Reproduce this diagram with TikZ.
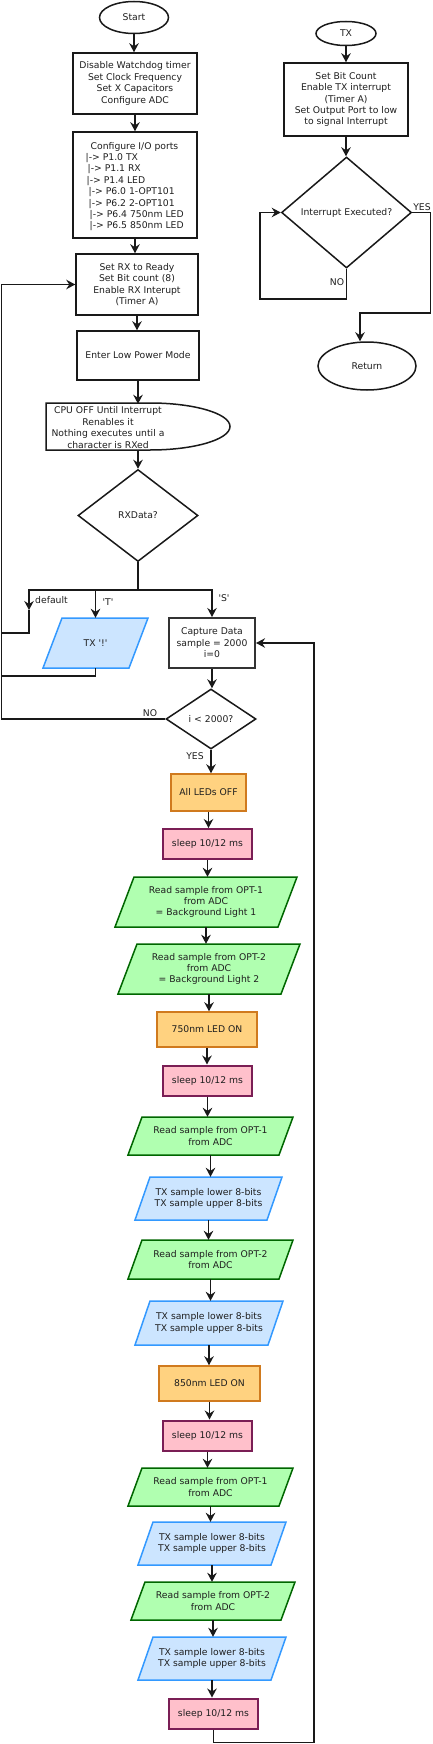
\documentclass[tikz,border=0pt]{standalone}
\usepackage{fontspec}
\newfontfamily\dv{DejaVu Sans}
\usetikzlibrary{shapes.geometric,arrows.meta,calc}
\definecolor{grnF}{HTML}{B0FFB0}
\definecolor{grnD}{HTML}{006600}
\definecolor{bluF}{HTML}{CCE5FF}
\definecolor{bluD}{HTML}{3399FF}
\definecolor{ledF}{HTML}{FFD280}
\definecolor{ledD}{HTML}{D07A1E}
\definecolor{pnkF}{HTML}{FFC0CB}
\definecolor{pnkD}{HTML}{7A1E55}
\newcommand\Para[8]{%
  \path[#7] (#2+#6,#4) -- (#3,#4) -- (#3-#6,#5) -- (#2,#5) -- cycle;
  \node[txt, minimum height={(#5-#4)*1pt}, minimum width={(#3-#2-#6)*1pt}] (#1) at ({(#2+#3)/2},{(#4+#5)/2}) {#8};}
\begin{document}
\begin{tikzpicture}[x=1pt,y=-1pt,
  txt/.style={font=\dv\fontsize{9.25}{11.4}\selectfont, text=black!88, align=center, inner sep=0pt},
  proc/.style={txt, draw=black!90, line width=1.5pt, rectangle, fill=white},
  term/.style={txt, draw=black!90, line width=1.5pt, ellipse, fill=white},
  dec/.style={txt, draw=black!90, line width=1.5pt, diamond, fill=white},
  ln/.style={line width=1.5pt, draw=black!90},
  arr/.style={ln, -{Stealth[length=9pt,width=9.5pt,inset=3pt]}},
  led/.style={proc, fill=ledF, draw=ledD},
  slp/.style={proc, fill=pnkF, draw=pnkD, line width=2pt},
  capbox/.style={proc, draw=black!80, line width=2pt},
  grn/.style={fill=grnF, draw=grnD, line width=1.5pt},
  blu/.style={fill=bluF, draw=bluD, line width=1.5pt}]
\fill[white] (0,0) rectangle (432,1744);
\useasboundingbox (0,0) rectangle (432,1744);

% ---------- main column ----------
\node[term, minimum width=69pt, minimum height=32pt] (start) at (134,17.5) {Start};
\node[proc, minimum width=124pt, minimum height=61pt] (cfg) at (135,83.5) {Disable Watchdog timer\\Set Clock Frequency\\Set X Capacitors\\Configure ADC};
\node[proc, minimum width=124pt, minimum height=106pt] (io) at (135,185) {};
\node[txt, anchor=west, align=left] (iotxt) at (85.5,186.5) {\hspace*{5pt}Configure I/O ports\\
|-> P1.0 TX\\
\hspace*{2pt}|-> P1.1 RX\\
\hspace*{1pt}|-> P1.4 LED\\
\hspace*{3pt}|-> P6.0 1-OPT101\\
\hspace*{3pt}|-> P6.2 2-OPT101\\
\hspace*{4pt}|-> P6.4 750nm LED\\
\hspace*{4pt}|-> P6.5 850nm LED};
\node[proc, minimum width=122pt, minimum height=61pt] (rx) at (137,284.5) {Set RX to Ready\\Set Bit count (8)\\Enable RX Interupt\\(Timer A)};
\node[proc, minimum width=122pt, minimum height=49pt] (lpm) at (138,355.5) {Enter Low Power Mode};
\path[draw=black!90, line width=1.5pt, fill=white] (46,403) -- (150,403)
  arc[start angle=90, end angle=-90, x radius=80pt, y radius=23.5pt] -- (46,450) -- cycle;
\node[txt, minimum height=47pt] (cpu) at (108,427.5) {CPU OFF Until Interrupt\\Renables it\\Nothing executes until a\\character is RXed};
\node[dec, minimum width=120pt, minimum height=92pt] (rxd) at (138,515.5) {RXData?};
\coordinate (br) at (138,590);
\coordinate (dflt) at (29,610);
\coordinate (lx) at (1.5,0);
\coordinate (dj) at (1.5,633);
\coordinate (tj) at (1.5,676);
\Para{txb}{43}{148}{618}{668}{19}{blu}{TX \textquotesingle!\textquotesingle}
\node[capbox, minimum width=86pt, minimum height=50pt] (capt) at (212,643) {Capture Data\\sample = 2000\\i=0};
\node[dec, minimum width=90pt, minimum height=60pt] (cond) at (211,719) {i < 2000?};
\node[led, minimum width=75pt, minimum height=37pt] (off) at (208.5,792.5) {All LEDs OFF};
\node[slp, minimum width=89pt, minimum height=30pt] (s1) at (207.5,844) {sleep 10/12 ms};
\Para{r1}{115}{297}{877}{927}{19}{grn}{Read sample from OPT-1\\from ADC\\= Background Light 1}
\Para{r2}{118}{300}{944}{994}{19}{grn}{Read sample from OPT-2\\from ADC\\= Background Light 2}
\node[led, minimum width=100pt, minimum height=35pt] (l750) at (207,1029.5) {750nm LED ON};
\node[slp, minimum width=89pt, minimum height=30pt] (s2) at (207.5,1080.5) {sleep 10/12 ms};
\Para{r3}{128}{293}{1117}{1155}{14}{grn}{Read sample from OPT-1\\from ADC}
\Para{t1}{135}{282}{1177}{1220}{15}{blu}{TX sample lower 8-bits\\TX sample upper 8-bits}
\Para{r4}{128}{293}{1240}{1279}{14}{grn}{Read sample from OPT-2\\from ADC}
\Para{t2}{135}{283}{1301}{1345}{15}{blu}{TX sample lower 8-bits\\TX sample upper 8-bits}
\node[led, minimum width=101pt, minimum height=35pt] (l850) at (209.5,1383.5) {850nm LED ON};
\node[slp, minimum width=89pt, minimum height=30pt] (s3) at (207.5,1435.5) {sleep 10/12 ms};
\Para{r5}{128}{293}{1468}{1506}{14}{grn}{Read sample from OPT-1\\from ADC}
\Para{t3}{138}{286}{1522}{1565}{15}{blu}{TX sample lower 8-bits\\TX sample upper 8-bits}
\Para{r6}{131}{295}{1582}{1620}{14}{grn}{Read sample from OPT-2\\from ADC}
\Para{t4}{138}{286}{1637}{1680}{15}{blu}{TX sample lower 8-bits\\TX sample upper 8-bits}
\node[slp, minimum width=89pt, minimum height=30pt] (s4) at (213.5,1713.5) {sleep 10/12 ms};
\coordinate (rb) at (314,1742.5);

% labels
\node[txt, anchor=west] (ldef) at (35,600) {default};
\node[txt] (lT) at (108,602) {\textquotesingle T\textquotesingle};
\node[txt] (lS) at (224,598) {\textquotesingle S\textquotesingle};
\node[txt] (lno) at (150,713) {NO};
\node[txt] (lyes) at (195,756) {YES};

% connectors main
\draw[arr] (start.south) -- (start.south |- cfg.north);
\draw[arr] (cfg.south) -- (cfg.south |- io.north);
\draw[arr] (io.south) -- (io.south |- rx.north);
\draw[arr] (rx.south) -- (rx.south |- lpm.north);
\draw[arr] (lpm.south) -- (lpm.south |- cpu.north);
\draw[arr] (rxd.north |- cpu.south) -- (rxd.north);
\draw[ln] (rxd.south) -- (br);
\draw[arr] (br) -| (dflt);
\draw[arr] (br) -| (txb.north);
\draw[arr] (br) -| (capt.north);
\draw[ln] (dflt) |- (dj);
\draw[ln] (txb.south) |- (tj);
\draw[arr] (cond.west) -- (cond.west -| lx) |- (rx.west);
\draw[arr] (capt.south) -- (capt.south |- cond.north);
\draw[arr] (cond.south) -- (cond.south |- off.north);
\draw[arr] (off.south) -- (off.south |- s1.north);
\draw[arr] (s1.south) -- (s1.south |- r1.north);
\draw[arr] (r1.south) -- (r1.south |- r2.north);
\draw[arr] (r2.south) -- (r2.south |- l750.north);
\draw[arr] (l750.south) -- (l750.south |- s2.north);
\draw[arr] (s2.south) -- (s2.south |- r3.north);
\draw[arr] (r3.south) -- (r3.south |- t1.north);
\draw[arr] (t1.south) -- (t1.south |- r4.north);
\draw[arr] (r4.south) -- (r4.south |- t2.north);
\draw[arr] (t2.south) -- (t2.south |- l850.north);
\draw[arr] (l850.south) -- (l850.south |- s3.north);
\draw[arr] (s3.south) -- (s3.south |- r5.north);
\draw[arr] (r5.south) -- (r5.south |- t3.north);
\draw[arr] (t3.south) -- (t3.south |- r6.north);
\draw[arr] (r6.south) -- (r6.south |- t4.north);
\draw[arr] (t4.south) -- (t4.south |- s4.north);
\draw[arr] (s4.south) |- (rb) |- (capt.east);

% ---------- TX subroutine ----------
\node[term, minimum width=60pt, minimum height=24pt] (tx) at (346,33.5) {TX};
\node[proc, minimum width=124pt, minimum height=73pt] (txb5) at (346,99.5) {Set Bit Count\\Enable TX interrupt\\(Timer A)\\Set Output Port to low\\to signal Interrupt};
\node[dec, minimum width=130pt, minimum height=111pt] (ie) at (346.5,212.5) {Interrupt Executed?};
\coordinate (nl) at (260,299);
\coordinate (yr) at (430.5,313);
\node[term, minimum width=98pt, minimum height=48pt] (ret) at (367,366) {Return};
\node[txt] (lno2) at (337,282) {NO};
\node[txt] (lyes2) at (422,207) {YES};
\draw[arr] (tx.south) -- (tx.south |- txb5.north);
\draw[arr] (txb5.south) -- (txb5.south |- ie.north);
\draw[arr] (ie.south) |- (nl) |- (ie.west);
\draw[arr] (ie.east) -| (yr) -| ([xshift=-7pt]ret.north);
\end{tikzpicture}
\end{document}
